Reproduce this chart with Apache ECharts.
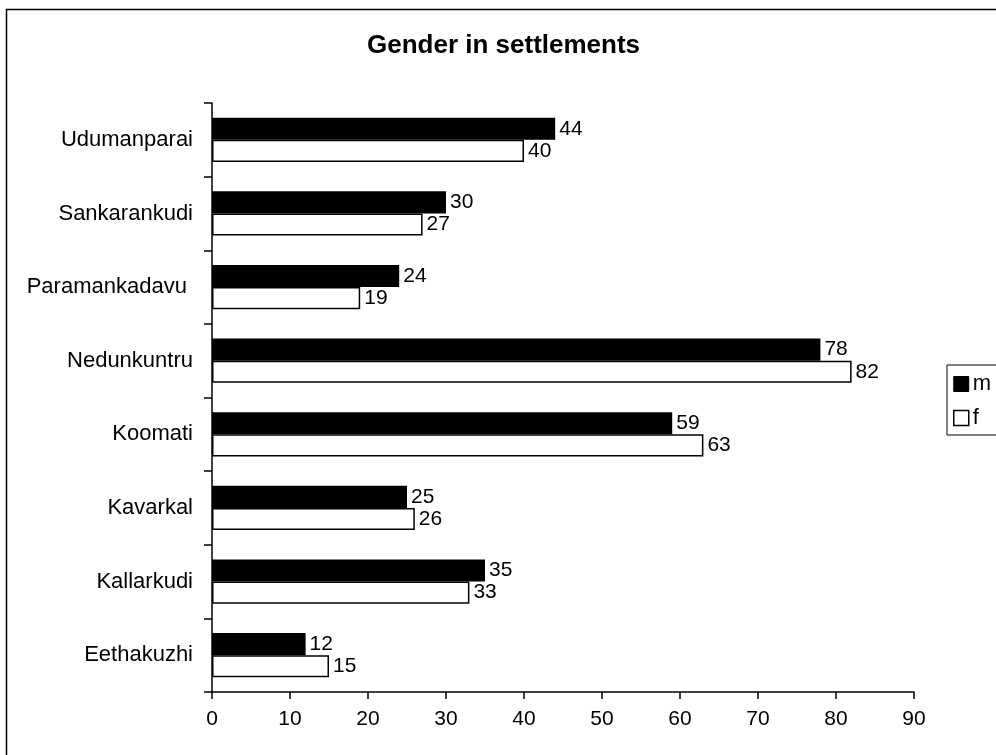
<!DOCTYPE html>
<html>
<head>
<meta charset="utf-8">
<title>Gender in settlements</title>
<script src="https://cdn.jsdelivr.net/npm/echarts@6/dist/echarts.min.js"></script>
<style>
  html, body { margin: 0; padding: 0; background: #fff; }
  #chart { width: 996px; height: 755px; }
</style>
</head>
<body>
<div id="chart"></div>
<script>
// categories listed bottom -> top (echarts category y axis starts at the bottom)
var settlements = ['Eethakuzhi', 'Kallarkudi', 'Kavarkal', 'Koomati', 'Nedunkuntru', 'Paramankadavu ', 'Sankarankudi', 'Udumanparai'];
var maleCounts = [12, 35, 25, 59, 78, 24, 30, 44];
var femaleCounts = [15, 33, 26, 63, 82, 19, 27, 40];
var xTicks = [0, 90, 10]; // min, max, step

var font = "'Liberation Sans', Arial, sans-serif";

var chart = echarts.init(document.getElementById('chart'), null, { renderer: 'canvas' });

var option = {
  backgroundColor: '#fff',
  animation: false,
  textStyle: { fontFamily: font, color: '#000' },
  graphic: [
    {
      type: 'rect',
      shape: { x: 6.5, y: 9.5, width: 1100, height: 900 },
      style: { fill: 'none', stroke: '#000', lineWidth: 1.5 },
      silent: true,
      z: -1
    }
  ],
  title: {
    text: 'Gender in settlements',
    left: 367,
    top: 33,
    padding: 0,
    textStyle: { fontFamily: font, fontSize: 26, fontWeight: 'bold', color: '#000' }
  },
  legend: {
    orient: 'vertical',
    left: 947,
    top: 365,
    padding: [8, 40, 6, 6],
    itemGap: 12,
    itemWidth: 15,
    itemHeight: 15,
    icon: 'rect',
    borderColor: '#000',
    borderWidth: 1,
    textStyle: { fontFamily: font, fontSize: 22, color: '#000', padding: [0, 0, 0, -1] },
    data: [
      { name: 'm', itemStyle: { color: '#000', borderColor: '#000', borderWidth: 1 } },
      { name: 'f', itemStyle: { color: '#fff', borderColor: '#000', borderWidth: 1.5 } }
    ]
  },
  grid: {
    left: 212,
    right: 82,
    top: 103,
    bottom: 63,
    containLabel: false
  },
  xAxis: {
    type: 'value',
    min: xTicks[0],
    max: xTicks[1],
    interval: xTicks[2],
    axisLine: { show: true, lineStyle: { color: '#000', width: 1.5 } },
    axisTick: { show: true, length: 7, lineStyle: { color: '#000', width: 1.5 } },
    axisLabel: { fontFamily: font, fontSize: 21, color: '#000', margin: 17 },
    splitLine: { show: false }
  },
  yAxis: {
    type: 'category',
    data: settlements,
    axisLine: { show: true, lineStyle: { color: '#000', width: 1.5 } },
    axisTick: { show: true, length: 8, alignWithLabel: false, lineStyle: { color: '#000', width: 1.5 } },
    axisLabel: { fontFamily: font, fontSize: 22, color: '#000', margin: 19 },
    splitLine: { show: false }
  },
  series: [
    {
      name: 'm',
      type: 'bar',
      data: maleCounts,
      barGap: '0%',
      barCategoryGap: '40%',
      itemStyle: { color: '#000', borderColor: '#000', borderWidth: 1.5 },
      label: {
        show: true,
        position: 'right',
        distance: 4,
        fontFamily: font,
        fontSize: 21,
        color: '#000'
      }
    },
    {
      name: 'f',
      type: 'bar',
      data: femaleCounts,
      barGap: '0%',
      barCategoryGap: '40%',
      itemStyle: { color: '#fff', borderColor: '#000', borderWidth: 1.5 },
      label: {
        show: true,
        position: 'right',
        distance: 4,
        fontFamily: font,
        fontSize: 21,
        color: '#000'
      }
    }
  ]
};

chart.setOption(option);
</script>
</body>
</html>
